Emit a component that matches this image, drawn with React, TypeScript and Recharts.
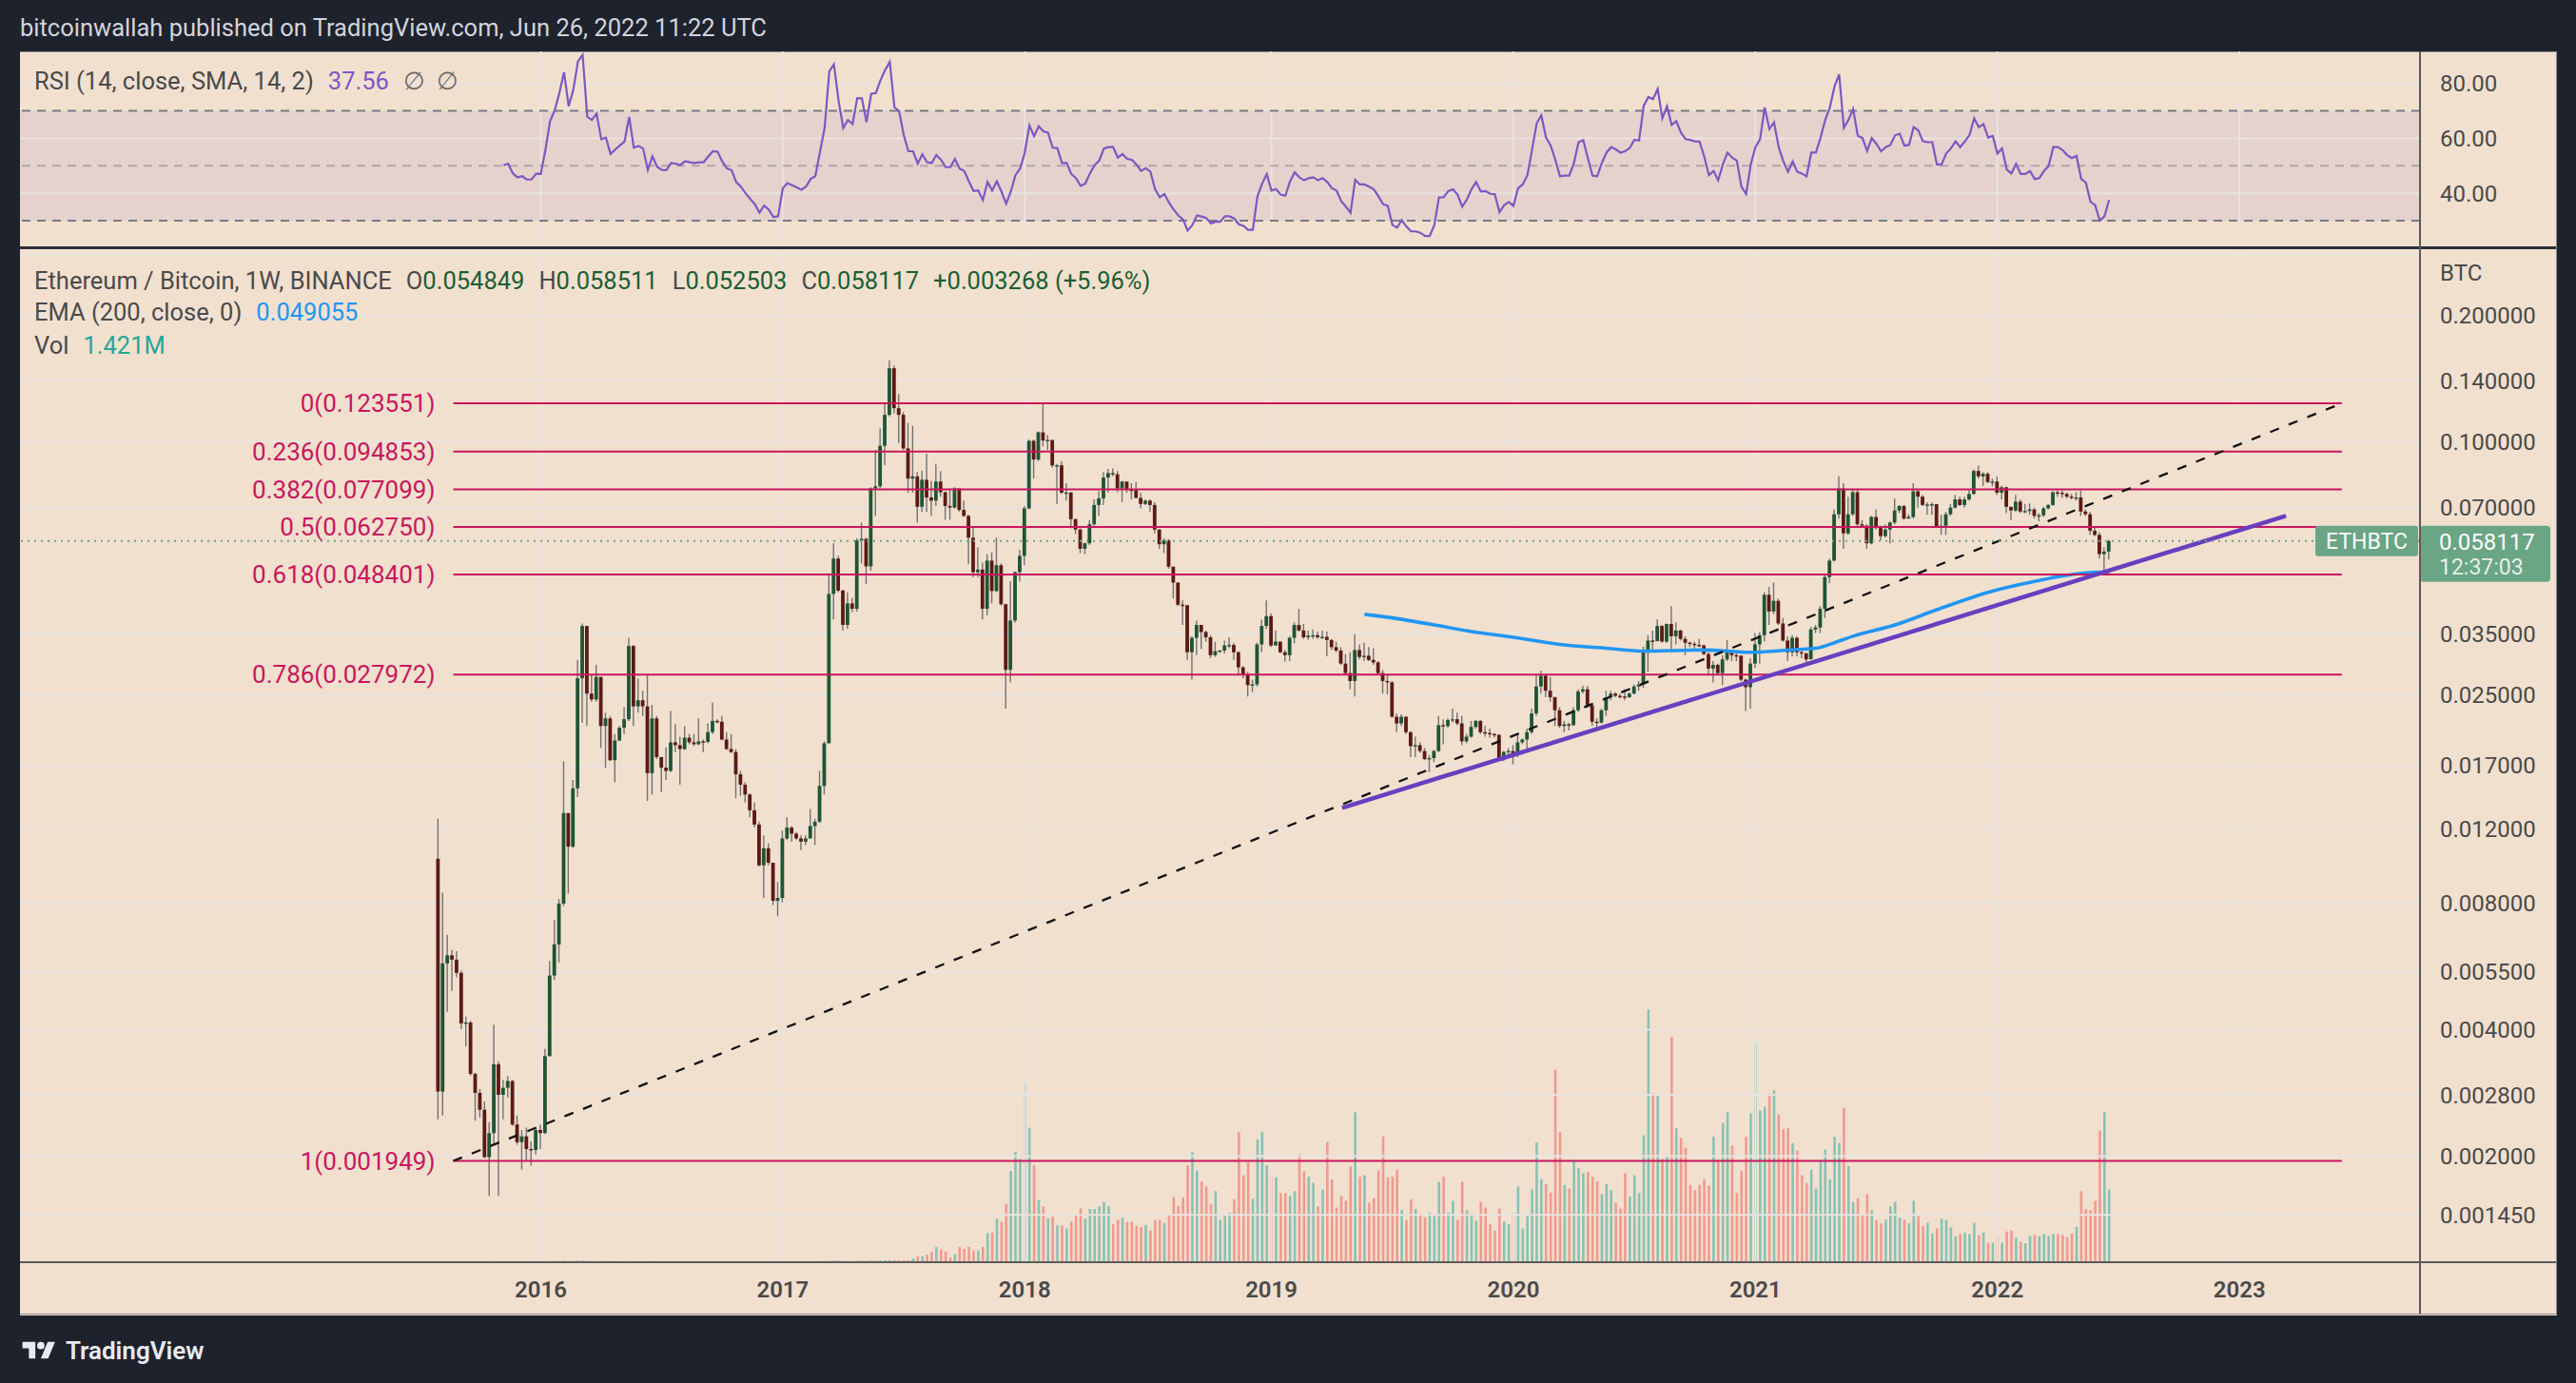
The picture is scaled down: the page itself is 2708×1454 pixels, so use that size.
import React from 'react';
import {
  ComposedChart, Bar, Line, XAxis, YAxis,
  ReferenceLine, ReferenceArea, ReferenceDot,
} from 'recharts';

const FONT = "Roboto, 'Liberation Sans', Arial, sans-serif";
const DARK = '#1e222d';
const BG = '#f2e0cf';
const GRID = '#e9e3df';
const AXIS_TEXT = '#4a4a4a';
const UP = '#1e5535';
const DOWN = '#5c1a14';
const WICK = '#727272';
const VOL_UP = '#86c3b4';
const VOL_DOWN = '#f09a8f';
const FIB = '#c8175d';
const TAG = '#6aa584';

// ---- weekly ETH/BTC candles (week 0 = Aug 3 2015) ----
const firstOpen = 0.0102;
const closes = [
  0.00285, 0.00575, 0.00601, 0.00587, 0.00546, 0.00414, 0.00416, 0.00314, 0.00283, 0.00258,
  0.00199, 0.00227, 0.00331, 0.00280, 0.00291, 0.00302, 0.00238, 0.00216, 0.00223, 0.00208,
  0.00207, 0.00231, 0.00227, 0.00346, 0.00538, 0.00638, 0.00798, 0.0131, 0.0109, 0.0150,
  0.0274, 0.0365, 0.0252, 0.0244, 0.0276, 0.0211, 0.0220, 0.0175, 0.0195, 0.0209,
  0.0219, 0.0327, 0.0235, 0.0243, 0.0235, 0.0163, 0.0220, 0.0178, 0.0168, 0.0165,
  0.0193, 0.0190, 0.0186, 0.0198, 0.0193, 0.0191, 0.0194, 0.01935, 0.0204, 0.0217,
  0.0216, 0.0196, 0.0186, 0.0183, 0.0162, 0.0153, 0.0145, 0.0133, 0.0123, 0.00984,
  0.0108, 0.00998, 0.00810, 0.00823, 0.0114, 0.0121, 0.0117, 0.0114, 0.0112, 0.0114,
  0.0122, 0.0125, 0.0152, 0.0192, 0.0435, 0.0528, 0.0443, 0.0367, 0.0413, 0.0401,
  0.0583, 0.0588, 0.0506, 0.0775, 0.0784, 0.0979, 0.1160, 0.1497, 0.1203, 0.1160,
  0.0965, 0.0818, 0.0828, 0.0701, 0.0813, 0.0738, 0.0725, 0.0805, 0.0759, 0.0704,
  0.0698, 0.0775, 0.0689, 0.0667, 0.0592, 0.0490, 0.0497, 0.0401, 0.0522, 0.0442,
  0.0509, 0.0411, 0.0287, 0.0376, 0.0490, 0.0536, 0.0695, 0.1006, 0.0908, 0.1054,
  0.1008, 0.1011, 0.0879, 0.0880, 0.0757, 0.0758, 0.0655, 0.0619, 0.0557, 0.0574,
  0.0637, 0.0708, 0.0734, 0.0823, 0.0843, 0.0838, 0.0775, 0.0805, 0.0770, 0.0768,
  0.0736, 0.0712, 0.0725, 0.0708, 0.0619, 0.0571, 0.0583, 0.0505, 0.0463, 0.0410,
  0.0409, 0.0316, 0.0342, 0.0367, 0.0353, 0.0343, 0.0311, 0.0318, 0.0319, 0.0328,
  0.0329, 0.0316, 0.0291, 0.0280, 0.0264, 0.0265, 0.0330, 0.0365, 0.0385, 0.0328,
  0.0335, 0.0316, 0.0311, 0.0342, 0.0367, 0.0356, 0.0343, 0.0346, 0.0347, 0.0343,
  0.0344, 0.0338, 0.0325, 0.0319, 0.0297, 0.0282, 0.0270, 0.0320, 0.0308, 0.0310,
  0.0303, 0.0299, 0.0282, 0.0270, 0.0268, 0.0222, 0.0214, 0.0222, 0.0204, 0.0189,
  0.0190, 0.0184, 0.0176, 0.0177, 0.0184, 0.0212, 0.0211, 0.0218, 0.0219, 0.0214,
  0.0194, 0.0199, 0.0210, 0.0217, 0.0204, 0.0203, 0.0202, 0.0201, 0.0176, 0.0183,
  0.0184, 0.0180, 0.0193, 0.0196, 0.0204, 0.0226, 0.0262, 0.0278, 0.0256, 0.0247,
  0.0230, 0.0211, 0.0213, 0.0212, 0.0230, 0.0255, 0.0258, 0.0236, 0.0216, 0.0215,
  0.0230, 0.0247, 0.0252, 0.0249, 0.0248, 0.0247, 0.0252, 0.0262, 0.0265, 0.0316,
  0.0337, 0.0336, 0.0365, 0.0335, 0.0369, 0.0345, 0.0356, 0.0340, 0.0333, 0.0331,
  0.0329, 0.0328, 0.0313, 0.0289, 0.0295, 0.0282, 0.0304, 0.0318, 0.0311, 0.0310,
  0.0272, 0.0261, 0.0297, 0.0330, 0.0347, 0.0433, 0.0395, 0.0419, 0.0370, 0.0337,
  0.0316, 0.0342, 0.0316, 0.0314, 0.0304, 0.0358, 0.0362, 0.0401, 0.0477, 0.0522,
  0.0673, 0.0775, 0.0606, 0.0673, 0.0759, 0.0637, 0.0632, 0.0574, 0.0663, 0.0624,
  0.0597, 0.0619, 0.0643, 0.0687, 0.0704, 0.0657, 0.0663, 0.0763, 0.0741, 0.0708,
  0.0710, 0.0711, 0.0628, 0.0632, 0.0673, 0.0698, 0.0730, 0.0708, 0.0730, 0.0752,
  0.0853, 0.0828, 0.0840, 0.0803, 0.0805, 0.0757, 0.0780, 0.0701, 0.0687, 0.0721,
  0.0683, 0.0685, 0.0691, 0.0667, 0.0669, 0.0695, 0.0708, 0.0759, 0.0757, 0.0752,
  0.0741, 0.0736, 0.0738, 0.0683, 0.0673, 0.0615, 0.0601, 0.0541, 0.054849, 0.058117,
];
const highs = [
  0.0127, 0.00847, 0.00673, 0.00619, 0.00615, 0.00553, 0.00430, 0.00420, 0.00316, 0.00289,
  0.00270, 0.00241, 0.00411, 0.00337, 0.00304, 0.00310, 0.00304, 0.00250, 0.00231, 0.00234,
  0.00217, 0.00234, 0.00238, 0.00360, 0.00583, 0.00730, 0.00818, 0.0174, 0.0131, 0.0157,
  0.0303, 0.0370, 0.0365, 0.0280, 0.0295, 0.0276, 0.0227, 0.0223, 0.0202, 0.0211,
  0.0234, 0.0342, 0.0329, 0.0274, 0.0256, 0.0280, 0.0237, 0.0223, 0.0178, 0.0188,
  0.0229, 0.0213, 0.0199, 0.0211, 0.0202, 0.0202, 0.0220, 0.0196, 0.0214, 0.0240,
  0.0219, 0.0223, 0.0204, 0.0202, 0.0186, 0.0165, 0.0155, 0.0146, 0.0139, 0.0125,
  0.0116, 0.0111, 0.00998, 0.00899, 0.0119, 0.0128, 0.0122, 0.0118, 0.0116, 0.0116,
  0.0134, 0.0127, 0.0165, 0.0194, 0.0487, 0.0574, 0.0536, 0.0445, 0.0439, 0.0426,
  0.0590, 0.0643, 0.0592, 0.0780, 0.0956, 0.1077, 0.1232, 0.1565, 0.1520, 0.1300,
  0.1178, 0.1110, 0.1093, 0.0848, 0.0855, 0.0938, 0.0808, 0.0886, 0.0853, 0.0763,
  0.0775, 0.0780, 0.0775, 0.0725, 0.0671, 0.0624, 0.0562, 0.0517, 0.0541, 0.0546,
  0.0592, 0.0514, 0.0413, 0.0466, 0.0492, 0.0554, 0.0704, 0.1014, 0.1014, 0.1060,
  0.1243, 0.1039, 0.1008, 0.0886, 0.0900, 0.0798, 0.0759, 0.0657, 0.0623, 0.0576,
  0.0651, 0.0730, 0.0763, 0.0848, 0.0863, 0.0865, 0.0853, 0.0808, 0.0805, 0.0798,
  0.0803, 0.0757, 0.0730, 0.0730, 0.0719, 0.0619, 0.0590, 0.0588, 0.0505, 0.0463,
  0.0420, 0.0409, 0.0345, 0.0376, 0.0367, 0.0356, 0.0347, 0.0335, 0.0320, 0.0337,
  0.0343, 0.0333, 0.0318, 0.0293, 0.0284, 0.0272, 0.0333, 0.0378, 0.0420, 0.0391,
  0.0356, 0.0335, 0.0320, 0.0345, 0.0372, 0.0401, 0.0369, 0.0356, 0.0358, 0.0354,
  0.0356, 0.0354, 0.0340, 0.0335, 0.0325, 0.0313, 0.0316, 0.0349, 0.0330, 0.0333,
  0.0325, 0.0323, 0.0301, 0.0287, 0.0280, 0.0270, 0.0226, 0.0225, 0.0223, 0.0205,
  0.0199, 0.0193, 0.0187, 0.0180, 0.0185, 0.0223, 0.0219, 0.0220, 0.0232, 0.0227,
  0.0223, 0.0202, 0.0217, 0.0218, 0.0218, 0.0211, 0.0208, 0.0203, 0.0202, 0.0184,
  0.0187, 0.0190, 0.0202, 0.0197, 0.0208, 0.0232, 0.0280, 0.0286, 0.0280, 0.0276,
  0.0248, 0.0234, 0.0217, 0.0215, 0.0234, 0.0258, 0.0263, 0.0263, 0.0237, 0.0220,
  0.0232, 0.0256, 0.0256, 0.0254, 0.0252, 0.0258, 0.0254, 0.0265, 0.0270, 0.0326,
  0.0347, 0.0356, 0.0378, 0.0367, 0.0370, 0.0407, 0.0372, 0.0358, 0.0345, 0.0335,
  0.0335, 0.0340, 0.0330, 0.0316, 0.0301, 0.0297, 0.0311, 0.0338, 0.0320, 0.0316,
  0.0311, 0.0274, 0.0306, 0.0351, 0.0353, 0.0439, 0.0452, 0.0463, 0.0424, 0.0381,
  0.0345, 0.0347, 0.0345, 0.0320, 0.0316, 0.0363, 0.0367, 0.0407, 0.0483, 0.0528,
  0.0691, 0.0828, 0.0798, 0.0741, 0.0770, 0.0775, 0.0651, 0.0637, 0.0667, 0.0691,
  0.0632, 0.0637, 0.0647, 0.0734, 0.0708, 0.0708, 0.0673, 0.0798, 0.0770, 0.0748,
  0.0719, 0.0719, 0.0712, 0.0671, 0.0681, 0.0712, 0.0748, 0.0741, 0.0741, 0.0770,
  0.0860, 0.0878, 0.0848, 0.0848, 0.0818, 0.0828, 0.0786, 0.0782, 0.0701, 0.0748,
  0.0730, 0.0712, 0.0714, 0.0698, 0.0677, 0.0701, 0.0712, 0.0763, 0.0767, 0.0767,
  0.0757, 0.0752, 0.0759, 0.0767, 0.0691, 0.0681, 0.0628, 0.0610, 0.0562, 0.058511,
];
const lows = [
  0.00245, 0.00250, 0.00441, 0.00495, 0.00533, 0.00401, 0.00365, 0.00311, 0.00243, 0.00247,
  0.00198, 0.00161, 0.00214, 0.00161, 0.00245, 0.00276, 0.00236, 0.00213, 0.00186, 0.00195,
  0.00190, 0.00202, 0.00208, 0.00226, 0.00346, 0.00525, 0.00578, 0.00787, 0.00842, 0.0108,
  0.0143, 0.0215, 0.0211, 0.0241, 0.0241, 0.0187, 0.0168, 0.0174, 0.0155, 0.0194,
  0.0202, 0.0217, 0.0211, 0.0227, 0.0223, 0.0140, 0.0145, 0.0176, 0.0147, 0.0157,
  0.0164, 0.0183, 0.0153, 0.0185, 0.0191, 0.0189, 0.0190, 0.0183, 0.0192, 0.0202,
  0.0214, 0.0195, 0.0185, 0.0182, 0.0142, 0.0144, 0.0139, 0.0128, 0.0121, 0.00978,
  0.00823, 0.00984, 0.00791, 0.00745, 0.00803, 0.0113, 0.0112, 0.0113, 0.0107, 0.0110,
  0.0114, 0.0110, 0.0124, 0.0145, 0.0192, 0.0378, 0.0439, 0.0356, 0.0359, 0.0394,
  0.0395, 0.0514, 0.0459, 0.0494, 0.0667, 0.0775, 0.0881, 0.1150, 0.1168, 0.0994,
  0.0956, 0.0757, 0.0757, 0.0643, 0.0681, 0.0681, 0.0667, 0.0704, 0.0741, 0.0653,
  0.0653, 0.0694, 0.0683, 0.0663, 0.0512, 0.0476, 0.0477, 0.0378, 0.0387, 0.0413,
  0.0439, 0.0408, 0.0232, 0.0268, 0.0372, 0.0466, 0.0509, 0.0691, 0.0818, 0.0900,
  0.0976, 0.0956, 0.0868, 0.0712, 0.0752, 0.0725, 0.0623, 0.0604, 0.0544, 0.0541,
  0.0569, 0.0632, 0.0667, 0.0708, 0.0757, 0.0828, 0.0759, 0.0719, 0.0757, 0.0730,
  0.0734, 0.0695, 0.0708, 0.0681, 0.0606, 0.0557, 0.0544, 0.0499, 0.0424, 0.0407,
  0.0367, 0.0303, 0.0272, 0.0311, 0.0322, 0.0335, 0.0306, 0.0308, 0.0315, 0.0314,
  0.0323, 0.0303, 0.0280, 0.0274, 0.0248, 0.0254, 0.0262, 0.0316, 0.0359, 0.0325,
  0.0328, 0.0314, 0.0300, 0.0301, 0.0332, 0.0354, 0.0340, 0.0338, 0.0340, 0.0340,
  0.0340, 0.0309, 0.0320, 0.0316, 0.0295, 0.0280, 0.0258, 0.0248, 0.0304, 0.0301,
  0.0301, 0.0295, 0.0280, 0.0252, 0.0251, 0.0221, 0.0204, 0.0211, 0.0202, 0.0178,
  0.0178, 0.0182, 0.0175, 0.0164, 0.0173, 0.0183, 0.0191, 0.0209, 0.0215, 0.0212,
  0.0190, 0.0192, 0.0198, 0.0208, 0.0202, 0.0199, 0.0198, 0.0198, 0.0175, 0.0174,
  0.0180, 0.0171, 0.0178, 0.0191, 0.0186, 0.0202, 0.0223, 0.0252, 0.0247, 0.0241,
  0.0211, 0.0209, 0.0204, 0.0206, 0.0211, 0.0228, 0.0252, 0.0234, 0.0211, 0.0208,
  0.0214, 0.0223, 0.0243, 0.0247, 0.0245, 0.0243, 0.0246, 0.0251, 0.0256, 0.0260,
  0.0284, 0.0320, 0.0335, 0.0333, 0.0333, 0.0316, 0.0330, 0.0337, 0.0311, 0.0325,
  0.0320, 0.0325, 0.0311, 0.0280, 0.0268, 0.0279, 0.0264, 0.0301, 0.0301, 0.0301,
  0.0270, 0.0229, 0.0232, 0.0290, 0.0297, 0.0335, 0.0367, 0.0389, 0.0367, 0.0335,
  0.0301, 0.0309, 0.0309, 0.0306, 0.0295, 0.0305, 0.0351, 0.0351, 0.0381, 0.0461,
  0.0520, 0.0657, 0.0557, 0.0601, 0.0667, 0.0628, 0.0624, 0.0557, 0.0571, 0.0619,
  0.0583, 0.0592, 0.0574, 0.0637, 0.0677, 0.0653, 0.0657, 0.0657, 0.0698, 0.0704,
  0.0671, 0.0671, 0.0624, 0.0601, 0.0601, 0.0667, 0.0694, 0.0704, 0.0698, 0.0725,
  0.0748, 0.0818, 0.0786, 0.0798, 0.0784, 0.0748, 0.0730, 0.0677, 0.0651, 0.0681,
  0.0677, 0.0677, 0.0671, 0.0657, 0.0647, 0.0663, 0.0691, 0.0704, 0.0741, 0.0736,
  0.0734, 0.0730, 0.0725, 0.0667, 0.0667, 0.0601, 0.0597, 0.0528, 0.0490, 0.052503,
];
// weekly volume, millions
const volumes = [
  0.020, 0.024, 0.018, 0.016, 0.015, 0.017, 0.015, 0.016, 0.018, 0.016,
  0.020, 0.022, 0.024, 0.021, 0.018, 0.016, 0.017, 0.016, 0.015, 0.016,
  0.015, 0.016, 0.015, 0.020, 0.024, 0.022, 0.024, 0.030, 0.026, 0.025,
  0.030, 0.032, 0.028, 0.024, 0.022, 0.024, 0.022, 0.021, 0.020, 0.019,
  0.020, 0.024, 0.022, 0.020, 0.018, 0.022, 0.020, 0.018, 0.017, 0.016,
  0.017, 0.016, 0.016, 0.015, 0.015, 0.014, 0.015, 0.014, 0.015, 0.016,
  0.015, 0.015, 0.014, 0.015, 0.016, 0.016, 0.015, 0.016, 0.017, 0.018,
  0.018, 0.016, 0.018, 0.017, 0.020, 0.018, 0.017, 0.016, 0.016, 0.016,
  0.017, 0.017, 0.020, 0.024, 0.030, 0.032, 0.028, 0.026, 0.025, 0.024,
  0.030, 0.028, 0.026, 0.032, 0.030, 0.034, 0.036, 0.040, 0.038, 0.034,
  0.036, 0.040, 0.07, 0.11, 0.12, 0.15, 0.20, 0.30, 0.25, 0.21,
  0.09, 0.16, 0.30, 0.26, 0.30, 0.23, 0.23, 0.30, 0.57, 0.58,
  0.85, 0.79, 1.14, 1.78, 2.16, 2.02, 3.52, 2.63, 1.90, 1.22,
  1.09, 0.86, 0.89, 0.72, 0.72, 0.66, 0.79, 0.93, 1.05, 0.85,
  1.04, 1.04, 1.09, 1.18, 1.10, 0.74, 0.83, 0.87, 0.79, 0.79,
  0.71, 0.69, 0.73, 0.62, 0.82, 0.82, 0.77, 0.93, 1.27, 1.10,
  1.27, 1.90, 2.16, 1.79, 1.58, 1.48, 1.13, 1.39, 0.83, 0.93,
  0.97, 1.23, 2.55, 1.70, 1.95, 1.24, 2.40, 2.55, 1.90, 1.66,
  1.66, 1.35, 1.35, 1.30, 1.39, 2.11, 1.78, 1.67, 1.55, 1.09,
  1.42, 2.35, 1.62, 1.07, 1.30, 1.20, 1.87, 2.93, 1.67, 1.70,
  1.16, 1.25, 1.79, 2.46, 1.66, 1.67, 1.81, 1.02, 0.83, 1.23,
  1.04, 0.95, 0.88, 0.97, 0.90, 1.57, 1.67, 0.97, 1.20, 0.83,
  1.57, 1.02, 0.95, 0.81, 1.18, 1.07, 0.74, 0.62, 1.05, 0.79,
  0.74, 0.99, 1.48, 0.66, 0.94, 1.42, 2.34, 1.62, 1.53, 1.36,
  3.76, 2.55, 1.51, 1.44, 2.00, 1.84, 1.74, 1.76, 1.67, 1.58,
  1.33, 1.53, 1.41, 1.16, 1.05, 1.74, 1.28, 1.70, 1.35, 2.48,
  4.94, 3.30, 3.28, 2.02, 2.06, 4.40, 2.62, 2.43, 2.24, 1.51,
  1.41, 1.51, 1.62, 1.50, 2.45, 1.97, 2.72, 2.93, 2.28, 1.35,
  1.79, 2.45, 2.91, 4.30, 2.97, 3.04, 3.30, 3.36, 2.89, 2.60,
  2.62, 2.33, 2.18, 1.70, 1.55, 1.81, 1.44, 1.98, 2.20, 1.62,
  2.45, 2.33, 3.02, 1.88, 1.18, 1.25, 0.93, 1.33, 1.02, 0.82,
  0.76, 0.83, 1.09, 1.18, 0.87, 0.83, 0.76, 1.20, 0.90, 0.71,
  0.77, 0.56, 0.66, 0.85, 0.83, 0.68, 0.51, 0.55, 0.58, 0.55,
  0.77, 0.53, 0.58, 0.38, 0.38, 0.51, 0.38, 0.60, 0.62, 0.48,
  0.40, 0.37, 0.51, 0.53, 0.51, 0.55, 0.51, 0.55, 0.55, 0.53,
  0.49, 0.56, 0.69, 1.39, 1.04, 1.02, 1.20, 2.57, 2.93, 1.421,
];
// RSI(14) as drawn in the upper pane
const rsiValues = [
  null, null, null, null, null, null, null, null, null, null,
  null, null, null, null, 50.2, 50.8, 47.2, 45.8, 46.2, 45.0,
  45.0, 47.1, 47.0, 55.7, 66.3, 70.2, 76.5, 84.1, 71.7, 77.7,
  88.1, 90.4, 67.8, 66.7, 69.0, 59.7, 60.3, 54.3, 55.9, 57.4,
  58.8, 67.8, 56.6, 57.2, 56.3, 48.5, 53.4, 49.7, 48.5, 48.4,
  51.0, 50.8, 50.3, 51.7, 51.3, 51.0, 51.3, 51.3, 53.4, 55.3,
  55.1, 51.6, 49.0, 48.4, 44.1, 42.4, 40.0, 38.0, 36.0, 32.9,
  35.5, 34.0, 31.3, 31.6, 41.8, 43.7, 42.9, 42.1, 41.3, 42.4,
  45.2, 46.2, 55.1, 63.8, 84.4, 87.0, 73.6, 63.8, 66.7, 65.2,
  74.6, 74.6, 65.9, 76.2, 76.5, 81.2, 84.9, 87.9, 71.3, 69.9,
  61.2, 55.3, 55.3, 50.8, 54.2, 51.3, 51.0, 53.9, 52.2, 49.5,
  49.5, 52.5, 49.0, 48.1, 44.3, 40.8, 41.0, 37.5, 44.1, 41.0,
  44.4, 40.6, 36.2, 40.6, 46.6, 49.0, 54.8, 64.7, 60.8, 64.4,
  62.6, 62.1, 56.6, 56.5, 51.0, 51.0, 47.0, 45.5, 42.7, 43.5,
  47.2, 50.2, 51.9, 56.3, 56.8, 56.8, 53.0, 54.3, 52.5, 52.2,
  50.5, 48.1, 49.1, 47.9, 41.5, 38.5, 39.7, 36.6, 34.0, 31.9,
  30.5, 26.4, 28.4, 31.9, 31.5, 31.0, 29.0, 29.6, 29.6, 31.6,
  31.6, 30.8, 28.7, 28.1, 26.7, 26.7, 38.9, 43.5, 47.0, 41.0,
  41.5, 39.5, 39.1, 44.3, 47.6, 45.8, 44.7, 45.5, 45.8, 44.7,
  45.5, 44.1, 41.8, 41.0, 37.1, 35.1, 32.9, 44.9, 43.2, 43.2,
  42.4, 41.4, 38.9, 36.0, 35.4, 28.4, 27.5, 30.2, 27.9, 26.1,
  26.1, 25.6, 24.4, 24.4, 28.4, 38.5, 38.5, 40.8, 41.4, 39.5,
  35.1, 37.7, 41.5, 44.1, 40.6, 40.8, 39.8, 39.7, 33.1, 35.6,
  36.8, 35.4, 41.8, 43.2, 46.6, 55.7, 65.5, 68.4, 60.3, 57.4,
  52.2, 46.2, 46.4, 46.4, 51.0, 58.6, 59.4, 52.8, 46.4, 46.2,
  51.0, 54.8, 56.8, 56.0, 54.8, 55.3, 56.5, 59.5, 59.2, 71.9,
  75.1, 74.3, 78.0, 67.3, 71.7, 64.9, 66.3, 62.1, 59.7, 59.4,
  58.9, 58.8, 53.4, 46.6, 48.1, 44.7, 50.5, 54.8, 53.0, 51.9,
  42.4, 39.7, 50.5, 56.8, 59.7, 71.3, 63.4, 65.8, 56.8, 51.6,
  47.8, 51.6, 47.8, 47.2, 46.1, 54.8, 54.8, 60.3, 66.7, 71.3,
  78.9, 83.3, 63.8, 66.7, 70.7, 60.9, 60.1, 55.4, 60.1, 58.0,
  55.3, 56.8, 57.6, 61.1, 61.7, 57.4, 57.6, 64.1, 62.9, 58.9,
  58.6, 58.6, 50.5, 50.5, 54.5, 56.3, 58.9, 56.8, 58.9, 61.2,
  67.3, 64.1, 65.2, 60.3, 60.9, 54.5, 56.3, 48.7, 47.2, 50.7,
  47.0, 47.0, 48.1, 45.2, 45.5, 48.1, 49.9, 56.8, 56.8, 55.7,
  53.9, 52.8, 53.6, 45.2, 43.9, 36.9, 35.7, 30.0, 31.6, 37.56,
];
// EMA(200) read at a few weeks along the blue curve
const emaWeeks = [199, 206, 214, 222, 231, 241, 251, 259, 265, 272, 282, 292, 296, 300, 304, 313, 322, 333, 343, 353, 359];
const emaValues = [0.0389, 0.0380, 0.0367, 0.0354, 0.0343, 0.0330, 0.0323, 0.0318, 0.0319, 0.0320, 0.0316, 0.0321, 0.0323, 0.0333, 0.0345, 0.0367, 0.0399, 0.0439, 0.0466, 0.0487, 0.049055];

const yearTicks = [22, 74, 126, 179, 231, 283, 335, 387];
const yearLabels = ['2016', '2017', '2018', '2019', '2020', '2021', '2022', '2023'];
const priceTicks = [0.2, 0.14, 0.1, 0.07, 0.035, 0.025, 0.017, 0.012, 0.008, 0.0055, 0.004, 0.0028, 0.002, 0.00145];
const gridPrices = [0.28, ...priceTicks];
const rsiTicks = [40, 60, 80];

const fibRatios = ['0', '0.236', '0.382', '0.5', '0.618', '0.786', '1'];
const fibPrices = [0.123551, 0.094853, 0.077099, 0.06275, 0.048401, 0.027972, 0.001949];
const fibStart = 3.2;
const fibEnd = 409;
const trendLine = [{ x: 194.2, y: 0.01348 }, { x: 397, y: 0.0667 }];

const legendOHLC = [['O', '0.054849'], ['H', '0.058511'], ['L', '0.052503'], ['C', '0.058117']];
const lastClose = 0.058117;

const weekDomain = [-89.9, 425.8];
const priceDomain = [0.0011194, 0.28734];
const volDomain = [0, 19.8];
const rsiDomain = [20.3, 91.7];

const rows = closes.map((close, i) => ({
  week: i,
  open: i === 0 ? firstOpen : closes[i - 1],
  close,
  high: highs[i],
  low: lows[i],
  range: [lows[i], highs[i]],
  vol: volumes[i],
  rsi: rsiValues[i],
  ema: null as number | null,
}));
emaWeeks.forEach((w, k) => { rows[w].ema = emaValues[k]; });

const renderCandle = (props: any) => {
  const { x, y, width, height, payload } = props;
  if (!payload || x == null || y == null) return <g />;
  const cx = x + width / 2;
  const top = Math.min(y, y + height);
  const bottom = Math.max(y, y + height);
  const lh = Math.log(payload.high);
  const ll = Math.log(payload.low);
  const span = lh - ll > 0 ? lh - ll : 1;
  const toY = (p: number) => top + ((lh - Math.log(p)) / span) * (bottom - top);
  const up = payload.close >= payload.open;
  const bodyTop = toY(Math.max(payload.open, payload.close));
  const bodyBottom = toY(Math.min(payload.open, payload.close));
  return (
    <g>
      <line x1={cx} x2={cx} y1={top} y2={bottom} stroke={WICK} strokeWidth={1.4} />
      <rect x={cx - 1.9} y={bodyTop} width={3.8} height={Math.max(1.4, bodyBottom - bodyTop)} fill={up ? UP : DOWN} />
    </g>
  );
};

const renderVolume = (props: any) => {
  const { x, y, width, height, payload } = props;
  if (!payload || x == null || !(height > 0)) return <g />;
  const cx = x + width / 2;
  return <rect x={cx - 1.3} y={y} width={2.6} height={height} fill={payload.close >= payload.open ? VOL_UP : VOL_DOWN} />;
};

const fibLabel = (text: string) => (props: any) => (
  <text x={props.cx - 19} y={props.cy} textAnchor="end" dominantBaseline="central" fill={FIB} fontSize={26} fontFamily={FONT}>
    {text}
  </text>
);

const priceTag = (props: any) => {
  const { cx, cy } = props;
  return (
    <g>
      <rect x={cx - 110} y={cy - 16} width={108} height={32} rx={3} fill={TAG} />
      <text x={cx - 56} y={cy + 1} textAnchor="middle" dominantBaseline="central" fill="#fff" fontSize={23} fontFamily={FONT}>ETHBTC</text>
      <rect x={cx} y={cy - 16} width={137} height={59} rx={4} fill={TAG} />
      <text x={cx + 20} y={cy + 1} dominantBaseline="central" fill="#fff" fontSize={24} fontFamily={FONT}>{lastClose.toFixed(6)}</text>
      <text x={cx + 20} y={cy + 28} dominantBaseline="central" fill="rgba(255,255,255,0.85)" fontSize={23} fontFamily={FONT}>12:37:03</text>
    </g>
  );
};

const axisTick = { fill: AXIS_TEXT, fontSize: 24, fontFamily: FONT };
const legendStyle = { position: 'absolute' as const, left: 36, fontSize: 25.5, lineHeight: '28px', color: AXIS_TEXT, whiteSpace: 'nowrap' as const };

export default function App() {
  return (
    <div style={{ position: 'relative', width: 2708, height: 1454, background: DARK, overflow: 'hidden', fontFamily: FONT }}>
      <style>{'html,body{margin:0;padding:0;background:#1e222d;overflow:hidden}'}</style>

      <div style={{ position: 'absolute', left: 21, top: 13, fontSize: 25.5, lineHeight: '32px', color: '#d1d4dc', whiteSpace: 'nowrap' }}>
        bitcoinwallah published on TradingView.com, Jun 26, 2022 11:22 UTC
      </div>

      <div style={{ position: 'absolute', left: 21, top: 54, width: 2667, height: 1328, background: BG, borderTop: '1px solid #8c8c8c' }} />

      {/* RSI pane */}
      <div style={{ position: 'absolute', left: 21, top: 54 }}>
        <ComposedChart width={2667} height={206} data={rows} margin={{ top: 0, right: 0, bottom: 0, left: 0 }}>
          <XAxis dataKey="week" type="number" domain={weekDomain} allowDataOverflow hide />
          <YAxis yAxisId="r" orientation="right" type="number" domain={rsiDomain} allowDataOverflow
            ticks={rsiTicks} interval={0} width={144} tickFormatter={(v: number) => v.toFixed(2)}
            tick={axisTick} tickLine={false} tickSize={0} tickMargin={21} axisLine={false} />
          {yearTicks.map((t) => <ReferenceLine key={'rx' + t} yAxisId="r" x={t} stroke={GRID} strokeWidth={2} />)}
          {rsiTicks.map((t) => <ReferenceLine key={'ry' + t} yAxisId="r" y={t} stroke={GRID} strokeWidth={2} />)}
          <ReferenceArea yAxisId="r" y1={30} y2={70} fill="#7e57c2" fillOpacity={0.1} stroke="none" />
          <ReferenceLine yAxisId="r" y={70} stroke="#787b86" strokeDasharray="9 7" strokeWidth={2} />
          <ReferenceLine yAxisId="r" y={50} stroke="rgba(120,123,134,0.5)" strokeDasharray="9 7" strokeWidth={2} />
          <ReferenceLine yAxisId="r" y={30} stroke="#787b86" strokeDasharray="9 7" strokeWidth={2} />
          <Line yAxisId="r" dataKey="rsi" type="linear" stroke="#7e57c2" strokeWidth={2.2} dot={false} isAnimationActive={false} />
        </ComposedChart>
      </div>

      {/* main pane: grid + volume underneath */}
      <div style={{ position: 'absolute', left: 21, top: 262 }}>
        <ComposedChart width={2667} height={1120} data={rows} margin={{ top: 0, right: 144, bottom: 55, left: 0 }}>
          <XAxis dataKey="week" type="number" domain={weekDomain} allowDataOverflow hide />
          <YAxis yAxisId="p" scale="log" type="number" domain={priceDomain} allowDataOverflow hide />
          <YAxis yAxisId="v" type="number" domain={volDomain} allowDataOverflow hide />
          {yearTicks.map((t) => <ReferenceLine key={'gx' + t} yAxisId="p" x={t} stroke={GRID} strokeWidth={2} />)}
          {gridPrices.map((p) => <ReferenceLine key={'gy' + p} yAxisId="p" y={p} stroke={GRID} strokeWidth={2} />)}
          <Bar yAxisId="v" dataKey="vol" barSize={3} shape={renderVolume} isAnimationActive={false} />
        </ComposedChart>
      </div>

      {/* main pane: candles, indicators, drawings, axes */}
      <div style={{ position: 'absolute', left: 21, top: 262 }}>
        <ComposedChart width={2667} height={1120} data={rows} margin={{ top: 0, right: 0, bottom: 0, left: 0 }}>
          <XAxis dataKey="week" type="number" domain={weekDomain} allowDataOverflow ticks={yearTicks} interval={0}
            tickFormatter={(v: number) => yearLabels[yearTicks.indexOf(v)] ?? ''} height={55}
            tick={{ ...axisTick, fontWeight: 600 }} tickLine={false} tickSize={0} tickMargin={20} axisLine={false} />
          <YAxis yAxisId="p" orientation="right" scale="log" type="number" domain={priceDomain} allowDataOverflow
            ticks={priceTicks} interval={0} width={144} tickFormatter={(v: number) => v.toFixed(6)}
            tick={axisTick} tickLine={false} tickSize={0} tickMargin={21} axisLine={false} />
          <Bar yAxisId="p" dataKey="range" barSize={4} shape={renderCandle} isAnimationActive={false} />
          <Line yAxisId="p" dataKey="ema" type="monotone" stroke="#2196f3" strokeWidth={3.6} dot={false} connectNulls isAnimationActive={false} />
          {fibPrices.map((p, k) => (
            <ReferenceLine key={'fib' + k} yAxisId="p" segment={[{ x: fibStart, y: p }, { x: fibEnd, y: p }]} stroke={FIB} strokeWidth={2} />
          ))}
          <ReferenceLine yAxisId="p" segment={[{ x: fibStart, y: fibPrices[6] }, { x: fibEnd, y: fibPrices[0] }]}
            stroke="#111" strokeWidth={2.3} strokeDasharray="10 11" />
          <ReferenceLine yAxisId="p" segment={trendLine} stroke="#6a3fbf" strokeWidth={4.5} />
          <ReferenceLine yAxisId="p" y={lastClose} stroke={TAG} strokeWidth={2} strokeDasharray="2 5" />
          {fibPrices.map((p, k) => (
            <ReferenceDot key={'fl' + k} yAxisId="p" x={fibStart} y={p} r={0} ifOverflow="visible"
              shape={fibLabel(`${fibRatios[k]}(${p.toFixed(6)})`)} />
          ))}
          <ReferenceDot yAxisId="p" x={weekDomain[1]} y={lastClose} r={0} ifOverflow="visible" shape={priceTag} />
        </ComposedChart>
      </div>

      {/* frame lines */}
      <div style={{ position: 'absolute', left: 21, top: 259, width: 2667, height: 3, background: '#2a2e39' }} />
      <div style={{ position: 'absolute', left: 2543, top: 54, width: 2, height: 1328, background: '#5b5b5b' }} />
      <div style={{ position: 'absolute', left: 21, top: 1326, width: 2667, height: 2, background: '#5b5b5b' }} />
      <div style={{ position: 'absolute', left: 2687, top: 54, width: 1, height: 1328, background: '#8c8c8c' }} />
      <div style={{ position: 'absolute', left: 21, top: 1381, width: 2667, height: 1, background: '#8c8c8c' }} />

      {/* legends */}
      <div style={{ ...legendStyle, top: 71 }}>
        RSI (14, close, SMA, 14, 2)
        <span style={{ color: '#7e57c2', marginLeft: 15 }}>37.56</span>
        <span style={{ color: '#6a6a6a', marginLeft: 15 }}>∅</span>
        <span style={{ color: '#6a6a6a', marginLeft: 12 }}>∅</span>
      </div>
      <div style={{ ...legendStyle, top: 281 }}>
        Ethereum / Bitcoin, 1W, BINANCE
        {legendOHLC.map(([k, v]) => (
          <span key={k} style={{ marginLeft: 15 }}>{k}<span style={{ color: '#1b5e34' }}>{v}</span></span>
        ))}
        <span style={{ color: '#1b5e34', marginLeft: 15 }}>+0.003268 (+5.96%)</span>
      </div>
      <div style={{ ...legendStyle, top: 314 }}>
        EMA (200, close, 0)<span style={{ color: '#2196f3', marginLeft: 15 }}>0.049055</span>
      </div>
      <div style={{ ...legendStyle, top: 349 }}>
        Vol<span style={{ color: '#26a69a', marginLeft: 15 }}>1.421M</span>
      </div>
      <div style={{ position: 'absolute', left: 2565, top: 273, fontSize: 24, lineHeight: '28px', color: AXIS_TEXT }}>BTC</div>

      {/* footer logo */}
      <svg style={{ position: 'absolute', left: 21, top: 1407 }} width={40} height={27} viewBox="0 0 36 28">
        <path d="M14 22H7V11H0V4h14v18zM28 22h-8l7.5-18h8L28 22z" fill="#e8eaf0" />
        <circle cx={20} cy={8} r={4} fill="#e8eaf0" />
      </svg>
      <div style={{ position: 'absolute', left: 69, top: 1405, fontSize: 26, lineHeight: '30px', fontWeight: 600, color: '#e8eaf0' }}>TradingView</div>
    </div>
  );
}
